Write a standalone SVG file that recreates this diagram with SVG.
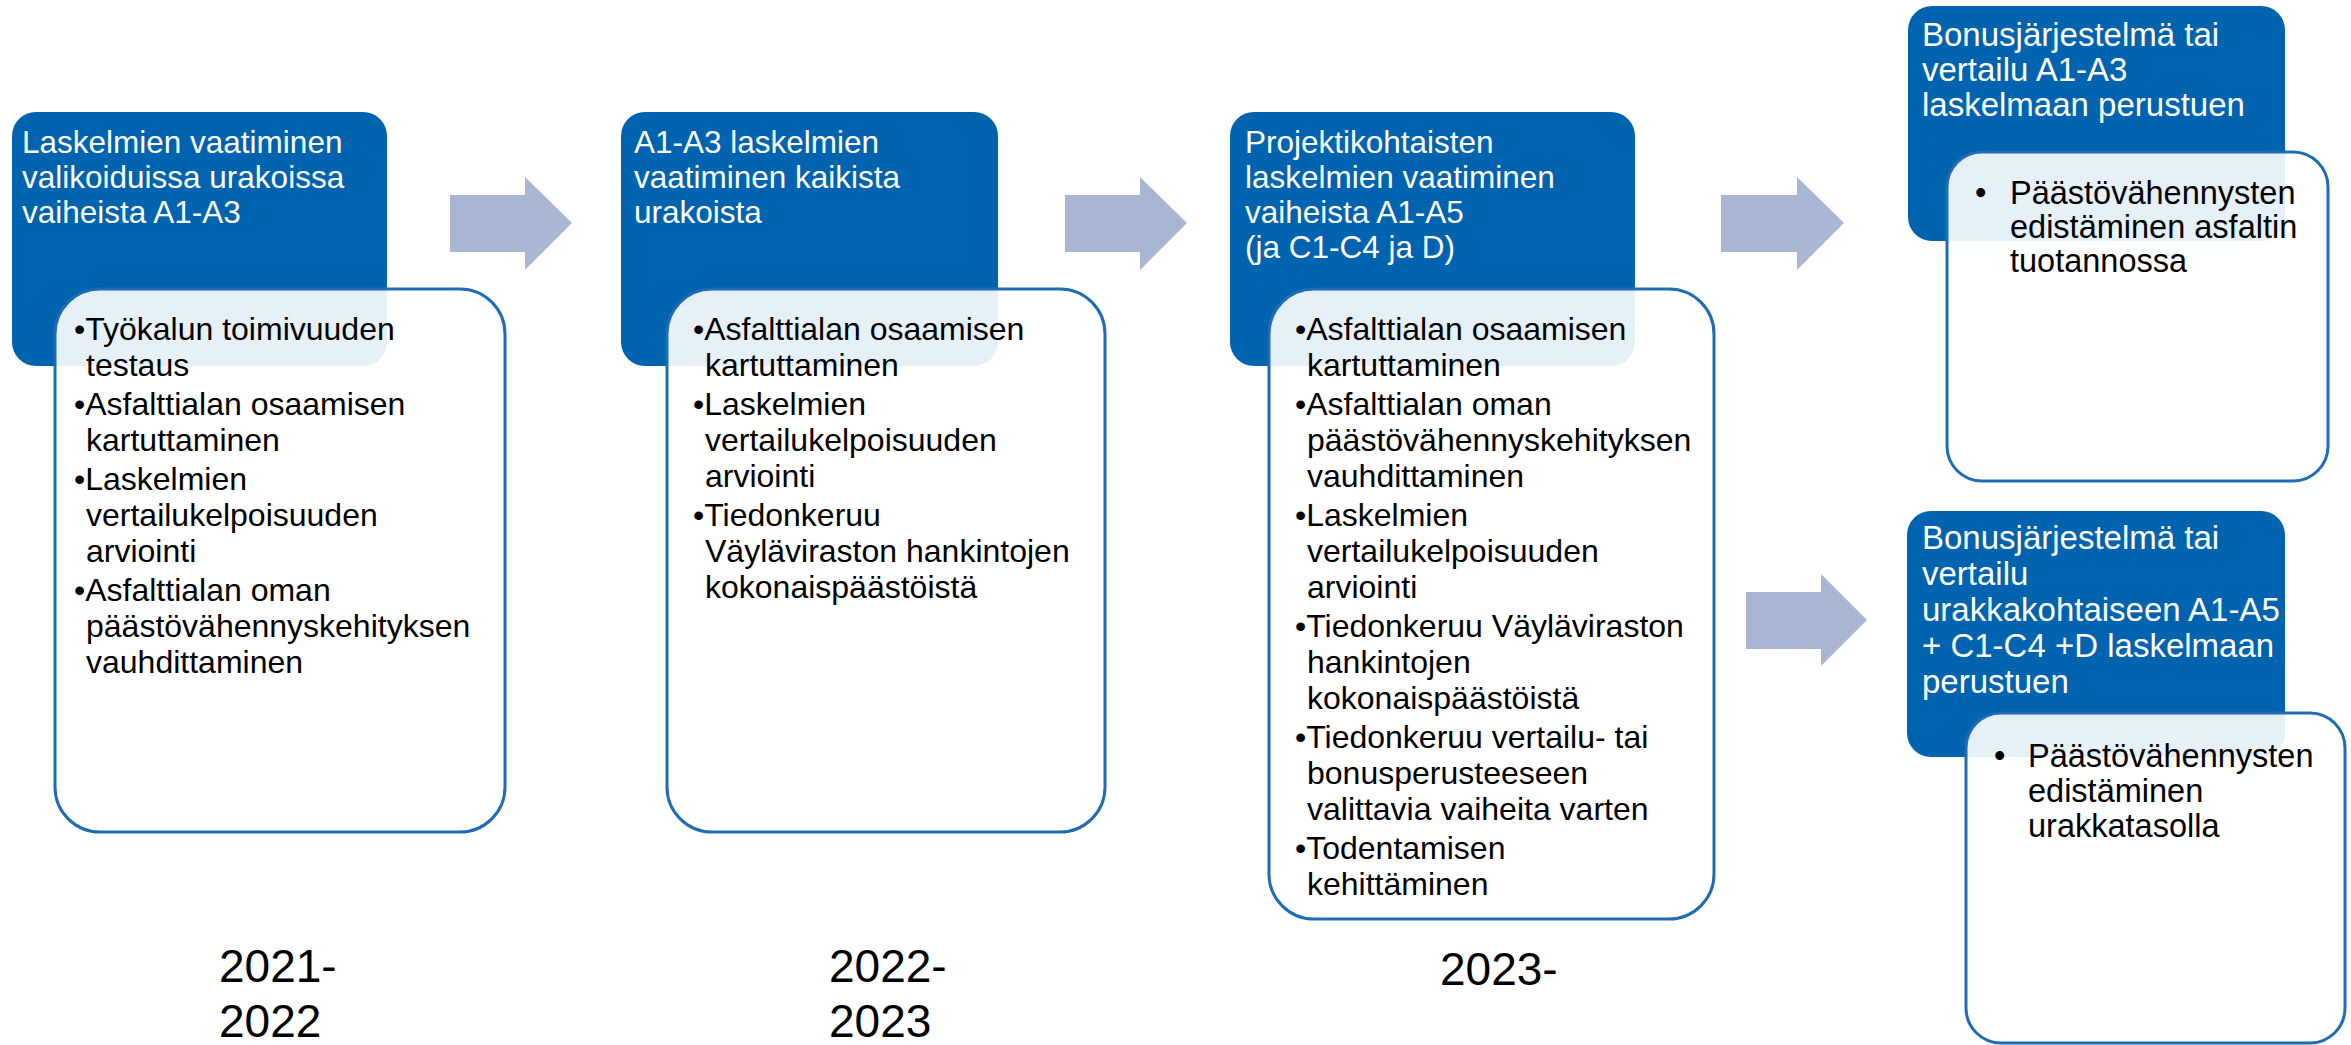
<svg xmlns="http://www.w3.org/2000/svg" width="2351" height="1045" viewBox="0 0 2351 1045">
  <style>
    .dark { fill: #0063AF; }
    .light { fill: #FFFFFF; fill-opacity: 0.9; stroke: #1F6CB5; stroke-width: 3; }
    .arrow { fill: #A9B6D3; }
    .head { font-family: "Liberation Sans", Arial, sans-serif; font-size: 31.5px; fill: #FFFFFF; }
    .head2 { font-family: "Liberation Sans", Arial, sans-serif; font-size: 33px; fill: #FFFFFF; }
    .body { font-family: "Liberation Sans", Arial, sans-serif; font-size: 32px; fill: #000000; }
    .body2 { font-family: "Liberation Sans", Arial, sans-serif; font-size: 32.5px; fill: #000000; }
    .year { font-family: "Liberation Sans", Arial, sans-serif; font-size: 46px; fill: #000000; }
  </style>

  <!-- connectors: block arrows between phases -->
  <g id="connectors">
    <polygon class="arrow" points="450,195 525,195 525,177 572,223 525,270 525,252 450,252"/>
    <polygon class="arrow" points="1065,195 1140,195 1140,177 1187,223 1140,270 1140,252 1065,252"/>
    <polygon class="arrow" points="1721,195 1797,195 1797,177 1844,223 1797,270 1797,252 1721,252"/>
    <polygon class="arrow" points="1746,592 1821,592 1821,574 1867,620 1821,666 1821,649 1746,649"/>
  </g>

  <!-- phase 1 -->
  <g id="phase1">
    <rect class="dark" x="12" y="112" width="375" height="254" rx="24"/>
    <text class="head">
      <tspan x="22" y="153">Laskelmien vaatiminen</tspan>
      <tspan x="22" y="188">valikoiduissa urakoissa</tspan>
      <tspan x="22" y="223">vaiheista A1-A3</tspan>
    </text>
    <rect class="light" x="55" y="289" width="450" height="543" rx="45"/>
    <text class="body">
      <tspan x="74" y="340">•Työkalun toimivuuden</tspan>
      <tspan x="86" y="376">testaus</tspan>
      <tspan x="74" y="415">•Asfalttialan osaamisen</tspan>
      <tspan x="86" y="451">kartuttaminen</tspan>
      <tspan x="74" y="490">•Laskelmien</tspan>
      <tspan x="86" y="526">vertailukelpoisuuden</tspan>
      <tspan x="86" y="562">arviointi</tspan>
      <tspan x="74" y="601">•Asfalttialan oman</tspan>
      <tspan x="86" y="637">päästövähennyskehityksen</tspan>
      <tspan x="86" y="673">vauhdittaminen</tspan>
    </text>
  </g>

  <!-- phase 2 -->
  <g id="phase2">
    <rect class="dark" x="621" y="112" width="377" height="254" rx="24"/>
    <text class="head">
      <tspan x="634" y="153">A1-A3 laskelmien</tspan>
      <tspan x="634" y="188">vaatiminen kaikista</tspan>
      <tspan x="634" y="223">urakoista</tspan>
    </text>
    <rect class="light" x="667" y="289" width="438" height="543" rx="45"/>
    <text class="body">
      <tspan x="693" y="340">•Asfalttialan osaamisen</tspan>
      <tspan x="705" y="376">kartuttaminen</tspan>
      <tspan x="693" y="415">•Laskelmien</tspan>
      <tspan x="705" y="451">vertailukelpoisuuden</tspan>
      <tspan x="705" y="487">arviointi</tspan>
      <tspan x="693" y="526">•Tiedonkeruu</tspan>
      <tspan x="705" y="562">Väyläviraston hankintojen</tspan>
      <tspan x="705" y="598">kokonaispäästöistä</tspan>
    </text>
  </g>

  <!-- phase 3 -->
  <g id="phase3">
    <rect class="dark" x="1230" y="112" width="405" height="254" rx="24"/>
    <text class="head">
      <tspan x="1245" y="153">Projektikohtaisten</tspan>
      <tspan x="1245" y="188">laskelmien vaatiminen</tspan>
      <tspan x="1245" y="223">vaiheista A1-A5</tspan>
      <tspan x="1245" y="258">(ja C1-C4 ja D)</tspan>
    </text>
    <rect class="light" x="1269" y="289" width="445" height="630" rx="45"/>
    <text class="body">
      <tspan x="1295" y="340">•Asfalttialan osaamisen</tspan>
      <tspan x="1307" y="376">kartuttaminen</tspan>
      <tspan x="1295" y="415">•Asfalttialan oman</tspan>
      <tspan x="1307" y="451">päästövähennyskehityksen</tspan>
      <tspan x="1307" y="487">vauhdittaminen</tspan>
      <tspan x="1295" y="526">•Laskelmien</tspan>
      <tspan x="1307" y="562">vertailukelpoisuuden</tspan>
      <tspan x="1307" y="598">arviointi</tspan>
      <tspan x="1295" y="637">•Tiedonkeruu Väyläviraston</tspan>
      <tspan x="1307" y="673">hankintojen</tspan>
      <tspan x="1307" y="709">kokonaispäästöistä</tspan>
      <tspan x="1295" y="748">•Tiedonkeruu vertailu- tai</tspan>
      <tspan x="1307" y="784">bonusperusteeseen</tspan>
      <tspan x="1307" y="820">valittavia vaiheita varten</tspan>
      <tspan x="1295" y="859">•Todentamisen</tspan>
      <tspan x="1307" y="895">kehittäminen</tspan>
    </text>
  </g>

  <!-- outcome: A1-A3 based bonus -->
  <g id="outcome1">
    <rect class="dark" x="1908" y="6" width="377" height="235" rx="24"/>
    <text class="head2">
      <tspan x="1922" y="46">Bonusjärjestelmä tai</tspan>
      <tspan x="1922" y="81">vertailu A1-A3</tspan>
      <tspan x="1922" y="116">laskelmaan perustuen</tspan>
    </text>
    <rect class="light" x="1947" y="152" width="381" height="329" rx="35"/>
    <text class="body2">
      <tspan x="1975" y="204">•</tspan>
      <tspan x="2010" y="204">Päästövähennysten</tspan>
      <tspan x="2010" y="238">edistäminen asfaltin</tspan>
      <tspan x="2010" y="272">tuotannossa</tspan>
    </text>
  </g>

  <!-- outcome: contract-level bonus -->
  <g id="outcome2">
    <rect class="dark" x="1907" y="511" width="378" height="246" rx="24"/>
    <text class="head2">
      <tspan x="1922" y="549">Bonusjärjestelmä tai</tspan>
      <tspan x="1922" y="585">vertailu</tspan>
      <tspan x="1922" y="621">urakkakohtaiseen A1-A5</tspan>
      <tspan x="1922" y="657">+ C1-C4 +D laskelmaan</tspan>
      <tspan x="1922" y="693">perustuen</tspan>
    </text>
    <rect class="light" x="1966" y="713" width="379" height="330" rx="35"/>
    <text class="body2">
      <tspan x="1994" y="767">•</tspan>
      <tspan x="2028" y="767">Päästövähennysten</tspan>
      <tspan x="2028" y="802">edistäminen</tspan>
      <tspan x="2028" y="837">urakkatasolla</tspan>
    </text>
  </g>

  <!-- timeline years -->
  <g id="years">
    <text class="year"><tspan x="219" y="982">2021-</tspan><tspan x="219" y="1037">2022</tspan></text>
    <text class="year"><tspan x="829" y="982">2022-</tspan><tspan x="829" y="1037">2023</tspan></text>
    <text class="year"><tspan x="1440" y="985">2023-</tspan></text>
  </g>
</svg>
